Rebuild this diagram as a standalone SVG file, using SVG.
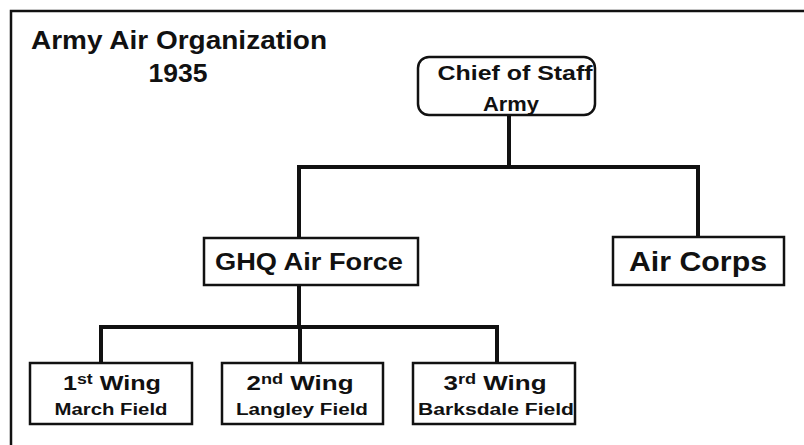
<svg xmlns="http://www.w3.org/2000/svg" width="804" height="445" viewBox="0 0 804 445">
<style>
text{font-family:"Liberation Sans",Arial,sans-serif;font-weight:bold;fill:#111;text-anchor:middle}
.box{fill:#fff;stroke:#111;stroke-width:2.5}
.conn{fill:none;stroke:#111;stroke-width:4;stroke-linecap:square}
.sup{font-size:14px}
</style>
<rect width="804" height="445" fill="#fff"/>
<path d="M11 445 V11 H804" fill="none" stroke="#111" stroke-width="2.5"/>
<g id="title">
<text x="179" y="49" font-size="25" textLength="296" lengthAdjust="spacingAndGlyphs">Army Air Organization</text>
<text x="178" y="82" font-size="25" textLength="59" lengthAdjust="spacingAndGlyphs">1935</text>
</g>
<g id="connectors">
<path class="conn" d="M509 116 V167 M299 167 H698 M299 167 V237 M698 167 V237"/>
<path class="conn" d="M299 286 V327 M101 327 H497 M101 327 V363 M300 327 V363 M497 327 V363"/>
</g>
<g id="chief">
<rect x="418" y="57" width="177" height="58" rx="11" class="box" stroke-width="3.5"/>
<text x="515" y="80" font-size="20" textLength="155" lengthAdjust="spacingAndGlyphs">Chief of Staff</text>
<text x="511" y="111" font-size="20" textLength="56" lengthAdjust="spacingAndGlyphs">Army</text>
</g>
<g id="ghq">
<rect x="204" y="238" width="214" height="47" class="box"/>
<text x="309" y="270" font-size="24" textLength="188" lengthAdjust="spacingAndGlyphs">GHQ Air Force</text>
</g>
<g id="aircorps">
<rect x="613" y="237" width="171" height="48" class="box"/>
<text x="698" y="271" font-size="27" textLength="138" lengthAdjust="spacingAndGlyphs">Air Corps</text>
</g>
<g id="wing1">
<rect x="30" y="363" width="162" height="61" class="box"/>
<text x="112" y="390" font-size="20" textLength="98" lengthAdjust="spacingAndGlyphs">1<tspan class="sup" dy="-6">st</tspan><tspan dy="6"> Wing</tspan></text>
<text x="111" y="415" font-size="16" textLength="113" lengthAdjust="spacingAndGlyphs">March Field</text>
</g>
<g id="wing2">
<rect x="222" y="363" width="161" height="61" class="box"/>
<text x="300" y="390" font-size="20" textLength="107" lengthAdjust="spacingAndGlyphs">2<tspan class="sup" dy="-6">nd</tspan><tspan dy="6"> Wing</tspan></text>
<text x="302" y="415" font-size="16" textLength="132" lengthAdjust="spacingAndGlyphs">Langley Field</text>
</g>
<g id="wing3">
<rect x="413" y="363" width="162" height="61" class="box"/>
<text x="495" y="390" font-size="20" textLength="103" lengthAdjust="spacingAndGlyphs">3<tspan class="sup" dy="-6">rd</tspan><tspan dy="6"> Wing</tspan></text>
<text x="496" y="415" font-size="16" textLength="156" lengthAdjust="spacingAndGlyphs">Barksdale Field</text>
</g>
</svg>
